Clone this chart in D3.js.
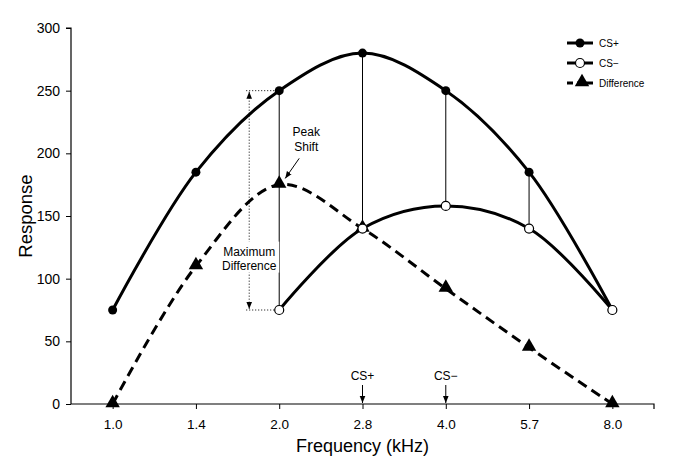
<!DOCTYPE html>
<html><head><meta charset="utf-8">
<script src="https://cdn.jsdelivr.net/npm/d3@7"></script>
<style>body{margin:0;background:#fff}svg{display:block}text{font-family:"Liberation Sans",Arial,sans-serif;fill:#000}</style>
</head><body><svg id="c" width="687" height="467"></svg>
<script>
const categories = ["1.0","1.4","2.0","2.8","4.0","5.7","8.0"];
const csPlus = [75,185,250,280,250,185,75];
const csMinusCats = ["2.0","2.8","4.0","5.7","8.0"];
const csMinus = [75,140,158,140,75];
const difference = [0,110,175,140,92,45,0];
const yTicks = [0,50,100,150,200,250,300];
const connectorCats = ["2.0","2.8","4.0","5.7"];
const stimulusMarks = [{cat:"2.8",label:"CS+"},{cat:"4.0",label:"CS\u2212"}];

const svg = d3.select("#c");
const pL=71,pR=654,pT=28,pB=404;
const x = d3.scalePoint().domain(categories).range([pL,pR]).padding(0.5);
const y = d3.scaleLinear().domain([0,300]).range([pB,pT]);

const defs = svg.append("defs");
defs.append("marker").attr("id","ah").attr("viewBox","0 0 10 10").attr("refX",10).attr("refY",5)
 .attr("markerWidth",7).attr("markerHeight",8).attr("orient","auto-start-reverse").attr("markerUnits","userSpaceOnUse")
 .append("path").attr("d","M0,1 L10,5 L0,9 Z").attr("fill","#000");

const ya = svg.append("g").attr("transform",`translate(${pL},0)`)
 .call(d3.axisLeft(y).tickValues(yTicks).tickSize(5).tickPadding(6).tickFormat(d3.format("d")));
ya.select(".domain").attr("stroke","#000").attr("stroke-width",1.2).attr("d",`M-5,${pT}H0V${pB}`);
ya.selectAll("text").attr("font-size",14).attr("font-family","Liberation Sans, Arial, sans-serif");
ya.selectAll("line").attr("stroke","#000");

const xa = svg.append("g").attr("transform",`translate(0,${pB})`)
 .call(d3.axisBottom(x).tickSize(5).tickPadding(10));
xa.select(".domain").attr("stroke","#000").attr("stroke-width",1.2).attr("d",`M${pL},0H${pR}V5`);
xa.selectAll("text").attr("font-size",13.5).attr("font-family","Liberation Sans, Arial, sans-serif");
xa.selectAll("line").attr("stroke","#000");

svg.append("text").attr("transform",`translate(32,${(pT+pB)/2}) rotate(-90)`).attr("text-anchor","middle")
 .attr("font-size",18.5).text("Response");
svg.append("text").attr("x",x("2.8")).attr("y",452).attr("text-anchor","middle").attr("font-size",18).text("Frequency (kHz)");

const minusMap = new Map(csMinusCats.map((c,i)=>[c,csMinus[i]]));
const plusMap = new Map(categories.map((c,i)=>[c,csPlus[i]]));
svg.append("g").selectAll("line").data(connectorCats).join("line")
 .attr("x1",d=>x(d)).attr("x2",d=>x(d)).attr("y1",d=>y(plusMap.get(d))).attr("y2",d=>y(minusMap.get(d)))
 .attr("stroke","#000").attr("stroke-width",1);

const mdx = x("2.0")-30;
const g2 = svg.append("g");
g2.append("line").attr("x1",mdx-3).attr("x2",x("2.0")).attr("y1",y(250)).attr("y2",y(250)).attr("stroke","#000").attr("stroke-dasharray","1,2");
g2.append("line").attr("x1",mdx-3).attr("x2",x("2.0")).attr("y1",y(75)).attr("y2",y(75)).attr("stroke","#000").attr("stroke-dasharray","1,2");
g2.append("line").attr("x1",mdx).attr("x2",mdx).attr("y1",y(250)+1).attr("y2",y(75)-1).attr("stroke","#000").attr("stroke-dasharray","1,2")
 .attr("marker-start","url(#ah)").attr("marker-end","url(#ah)");

const line = d3.line().curve(d3.curveCatmullRom.alpha(0.5));
const diffPts = categories.map((c,i)=>[x(c),y(difference[i])]);
svg.append("path").attr("d",line(diffPts)).attr("fill","none").attr("stroke","#000").attr("stroke-width",3).attr("stroke-dasharray","10,6");
const plusPts = categories.map((c,i)=>[x(c),y(csPlus[i])]);
svg.append("path").attr("d",line(plusPts)).attr("fill","none").attr("stroke","#000").attr("stroke-width",3);
const minusPts = csMinusCats.map((c,i)=>[x(c),y(csMinus[i])]);
svg.append("path").attr("d",line(minusPts)).attr("fill","none").attr("stroke","#000").attr("stroke-width",3);

const mdl = svg.append("g");
const mdY = y(120);
mdl.append("rect").attr("x",mdx-30).attr("y",mdY-12).attr("width",60).attr("height",31).attr("fill","#fff");
mdl.append("text").attr("x",mdx).attr("y",mdY+2).attr("text-anchor","middle").attr("font-size",12).text("Maximum");
mdl.append("text").attr("x",mdx).attr("y",mdY+16).attr("text-anchor","middle").attr("font-size",12).text("Difference");

const tri = d3.symbol().type(d3.symbolTriangle).size(90);
svg.append("g").selectAll("path").data(diffPts).join("path")
 .attr("transform",d=>`translate(${d[0]},${d[1]-1})`).attr("d",tri).attr("fill","#000");
svg.append("g").selectAll("circle").data(plusPts).join("circle")
 .attr("cx",d=>d[0]).attr("cy",d=>d[1]).attr("r",4.5).attr("fill","#000");
svg.append("g").selectAll("circle").data(minusPts).join("circle")
 .attr("cx",d=>d[0]).attr("cy",d=>d[1]).attr("r",4.5).attr("fill","#fff").attr("stroke","#000").attr("stroke-width",1.2);

svg.append("text").attr("x",x("2.0")+27).attr("y",y(215)+1).attr("text-anchor","middle").attr("font-size",12).text("Peak");
svg.append("text").attr("x",x("2.0")+27).attr("y",y(203)+1).attr("text-anchor","middle").attr("font-size",12).text("Shift");
svg.append("line").attr("x1",x("2.0")+20).attr("y1",y(196)).attr("x2",x("2.0")+6).attr("y2",y(180))
 .attr("stroke","#000").attr("stroke-width",1).attr("marker-end","url(#ah)");

const sm = svg.append("g").selectAll("g").data(stimulusMarks).join("g");
sm.append("text").attr("x",d=>x(d.cat)).attr("y",380).attr("text-anchor","middle").attr("font-size",12).text(d=>d.label);
sm.append("line").attr("x1",d=>x(d.cat)).attr("x2",d=>x(d.cat)).attr("y1",385).attr("y2",pB-1)
 .attr("stroke","#000").attr("stroke-width",1).attr("marker-end","url(#ah)");

const legendItems = [{label:"CS+",type:"plus"},{label:"CS\u2212",type:"minus"},{label:"Difference",type:"diff"}];
const lg = svg.append("g").selectAll("g").data(legendItems).join("g").attr("transform",(d,i)=>`translate(567,${43+i*20})`);
lg.append("line").attr("x1",0).attr("x2",26).attr("stroke","#000").attr("stroke-width",3);
lg.filter(d=>d.type==="plus").append("circle").attr("cx",13).attr("r",4.5).attr("fill","#000");
lg.filter(d=>d.type==="minus").append("circle").attr("cx",13).attr("r",4.5).attr("fill","#fff").attr("stroke","#000").attr("stroke-width",1.2);
lg.filter(d=>d.type==="diff").append("rect").attr("x",6).attr("y",-3).attr("width",4).attr("height",6).attr("fill","#fff");
lg.filter(d=>d.type==="diff").append("path").attr("transform","translate(15,-1)").attr("d",tri).attr("fill","#000");
lg.append("text").attr("x",32).attr("y",4).attr("font-size",10).text(d=>d.label);
</script></body></html>
